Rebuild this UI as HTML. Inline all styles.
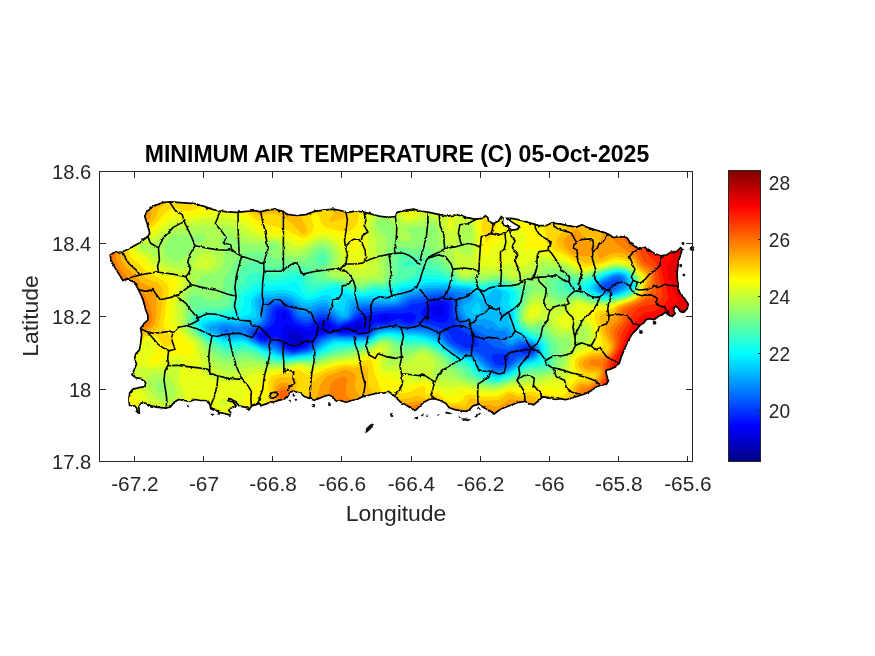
<!DOCTYPE html>
<html>
<head>
<meta charset="utf-8">
<title>Minimum Air Temperature</title>
<style>
html,body{margin:0;padding:0;background:#fff;}
body{width:875px;height:656px;overflow:hidden;position:relative;font-family:"Liberation Sans",sans-serif;}
svg{position:absolute;left:0;top:0;}
text{font-family:"Liberation Sans",sans-serif;fill:#262626;}
.txt{filter:url(#idf);}
.tk{font-size:20.83px;}
.lb{font-size:22.92px;}
.tt{font-size:23.05px;font-weight:bold;fill:#000;}
</style>
</head>
<body>
<svg width="875" height="656" viewBox="0 0 875 656">
<defs>
<linearGradient id="jet" x1="0" y1="1" x2="0" y2="0">
<stop offset="0" stop-color="#000083"/>
<stop offset="0.1216" stop-color="#0000ff"/>
<stop offset="0.3725" stop-color="#00ffff"/>
<stop offset="0.6235" stop-color="#ffff00"/>
<stop offset="0.8745" stop-color="#ff0000"/>
<stop offset="1" stop-color="#800000"/>
</linearGradient>
<filter id="idf" x="-5%" y="-5%" width="110%" height="110%" color-interpolation-filters="sRGB"><feOffset dx="0" dy="0"/></filter>
</defs>
<rect width="875" height="656" fill="#fff"/>
<!-- MAP-START -->
<defs><clipPath id="isl"><path d="M110.1 254.9 113.7 252.7 121.9 252.1 129.3 248.5 139.3 243 147.9 236.6 149.7 232.9 147.2 223.8 144.8 216.5 146.6 211.9 153 206.4 162.2 202.7 169.5 201.8 180.5 202.7 195.1 203.7 204.2 206.4 211.5 209.1 218.9 211 228 211.9 237.1 212.4 246.3 211.3 255.4 210.6 260 211.9 267.3 210.1 274.6 209.1 281.9 211 287.4 214.3 296.6 215.5 305.7 214.6 314.9 211.3 324 210.1 333.1 209.1 340.5 210.6 347.8 212.4 355.1 211 362.4 211.9 369.7 213.7 378.9 216.1 388 217.4 395.3 216.5 397.1 212.4 406.3 210.1 413.6 209.1 420 211 429.1 212.4 438.3 214.3 447.4 216.1 456.6 214.6 465.7 217.4 474.9 219.2 483.1 218.3 484.9 215.5 487.7 217.4 488.6 221 493.1 223.8 498.6 221 501.4 216.5 503.2 218.3 502.3 222.9 505 225.6 509.6 227.4 512.3 230.2 516.9 229.3 519.7 226.5 513.3 222.9 505.9 218.3 511.4 218.3 520.6 220.1 529.7 222.9 538.9 225.6 546.2 225.6 551.7 222.9 559 223.8 560 223.8 567.3 225.6 576.5 227.1 581.9 224.7 587.4 227.4 596.6 230.2 605.7 232.9 609.4 234.7 613 237.5 620.3 236.6 626.7 237.5 630.4 243 635 246.6 639.5 249 645 247.2 649.6 250.3 655.1 253.9 660.6 255.8 667 254.9 671.5 251.2 676.1 252.1 680.7 247.5 682.1 249.4 679.8 256.7 678 264.9 677.1 272.9 677.4 279.7 678 286.6 678.6 291.1 681.4 294.6 684.9 299.1 688.3 304.3 687.1 308.9 683.7 312.3 680.3 311.7 678 307.7 675.1 306 673.4 309.4 675.1 313.4 672.3 316.3 668.9 315.1 665.4 312.3 663.1 314 658.6 316.3 654 319.7 649.4 318.6 646 319.7 643.7 323.1 640.3 325 636.8 329.3 632.2 333.8 629.5 338.4 626.7 343.9 624 350.3 621.3 356.7 619.4 363.1 615.8 366.7 610.3 369.1 605.7 370.4 606.6 375 608.5 380.5 606.6 384.1 601.1 385 595.7 387.4 590.2 391.4 583.8 394.2 578.3 396 572.8 397.8 565.5 399.7 560 398.7 555.3 399.5 548 397.7 542.5 396.8 538.9 400.5 533.4 405 529.7 403.2 525.1 401.4 518.7 402.3 511.4 405 504.1 407.8 498.6 410.5 494.1 414.2 489.5 410.5 484 407.8 478.5 404.1 473 405.9 469.4 409.6 465.7 411.4 460.2 410.5 454.7 409.6 449.3 407.8 445.6 403.2 440.1 400.5 434.6 398.6 429.1 399.5 423.7 402.3 420 405.9 415.4 410.5 411.8 408.7 406.3 405 400.8 402.3 395.3 396.8 389.8 392.2 384.3 392.8 377 393.1 369.7 395 362.4 396.8 356.9 399.5 351.4 400.5 345.9 402.3 340.5 400.5 335.9 401.4 333.1 396.8 328.6 395 323.1 396.8 318.5 398.6 314.9 400.5 310.3 398.6 304.8 396.8 300.2 393.1 293.8 391.2 289.7 392.1 288.3 395.6 284.2 399 278.7 400.4 274.6 401.7 270.5 402.4 265.5 404.1 260 405.9 260 403.2 255.4 405 251.8 405.9 249 409.6 246.3 407.4 239 405.9 235.3 401.4 229.8 398.6 228 400.5 233.5 402.3 236.2 405.9 231.7 407.8 228 409.6 230.7 412.3 229.8 415.1 224.3 413.3 218.9 412.3 215.2 409.6 210.6 407.8 209.7 404.1 206.1 400.5 200.6 400.5 195.1 399.5 189.6 401.4 184.1 400.5 178.6 399.5 174.1 402.3 170.4 406.9 165.8 408.1 158.5 407.4 151.2 405.9 145.7 403.2 141.1 403.2 138.8 406.9 139.3 413.3 137.5 412.3 136.6 407.8 133.8 405.9 129.6 405.6 128.9 400.5 129.6 393.1 132.9 389.1 139.3 387.7 144.8 386.7 145.7 383.1 142.1 378.5 135.7 377.6 132 374.9 134.7 368.5 136.6 363.9 134.4 359.3 135.7 353.8 139.3 350.2 140.6 343.8 141.7 334.6 140.6 328.2 143.9 323.7 147.9 320 147.9 315.2 145.7 309.7 143.9 302.4 141.1 295.1 138.4 289.6 134.7 282.3 127.4 279.5 122.9 280.5 120.1 275.9 115.5 268.6 111 260.3z"/></clipPath><filter id="rgh" x="-2%" y="-2%" width="104%" height="104%"><feTurbulence type="fractalNoise" baseFrequency="0.22" numOctaves="2" seed="7" result="n"/><feDisplacementMap in="SourceGraphic" in2="n" scale="2.6" xChannelSelector="R" yChannelSelector="G"/></filter></defs>
<g clip-path="url(#isl)">
<rect x="100" y="196" width="600" height="248" fill="#0000ca"/>
<path fill="#0000e9" d="M102 196l598 0 0 248 -600 0 0-248zM355.3 326l-1.2 2 2.6 2 3.7 0 2.2-2 0-2 -2.6-1.5zM291.7 332l-3.3 2 -0.7 2 0.3 3 1.3 3 1.7 2 3 1.4 4-0.4 2.6-1 2.2-2 0.9-2 0.1-2 -0.8-2 -5-3.1z"/>
<path fill="#0008ff" d="M102 196l598 0 0 248 -600 0 0-248zM434 306l-2.1 4 0.3 2 1.3 2 2.5 1.6 4 0.9 2-0.3 2-1.4 1.2-4.8 -1.2-2.9 -2-1.3 -4-0.8zM281.8 314l-0.4 2 0.6 2.1 2 1.8 2-1.1 0.5-2.8 -0.5-2.3 -2-0.8zM385.6 316l-1.6 0.3 -2.4 1.7 0.5 2 3.9 1.1 2.5-1.1 0.8-2 -1.3-1.4zM357 322l-5 2.3 -7.7 1.7 -4.8 4 2.5 1.3 8-0.4 8 1.3 4-0.3 3.6-1.9 1.9-4 0.3-2 -0.7-2 -3.1-1.4 -2-0.1zM320 324l-5.2 4 -2.8 3.8 -8-1.4 -16-6.1 -2 0.1 -3.8 5.6 -0.8 4 3.3 8 3.1 4 4.2 2.2 4.6-0.2 5.9-2 3.1-2 2.7-4 3.7-7.8 12-0.8 4-1.4 2.6-2 -0.1-2 -2.5-2.2 -4-0.8zM262.8 334l-2 2 0.9 2 3.2 0 1.8-2 -0.7-2z"/>
<path fill="#0025ff" d="M102 196l598 0 0 248 -600 0 0-248zM432.7 302l-3.6 2 -4.8 4 -2.7 4 -0.2 2 1.4 2 11.2 5.2 8 1.7 4-0.8 2-2.2 1.1-3.9 0.6-8 -0.6-4 -2.3-2 -4.8-1 -6 0.1zM277.3 310l-1.4 2 -1.1 8 -1.3 4 -4.6 4 -9.5 4 -2.3 2 0.1 2 2.8 3.2 4 1.3 8-2.8 4-0.4 4 2.6 4 6.4 2.4 1.7 5.6 2.2 4-0.2 10-3.2 10-10.3 16-5.3 2-0.2 8 2.3 22 0.1 3.1-1.4 4.9-6.9 4-2.5 10 0.7 12-4.6 2 0.1 6 3.4 4 1 2.6-1.2 3.1-4 0-2 -1.4-2 -4.3-1.7 -10 1.8 -16-1.1 -10 2.2 -12 1.6 -10 5.3 -6.8 1.9 -7.2 3.1 -2-0.1 -6-5.1 -6-2 -4 0.6 -10 5.7 -4 0.7 -6-1.4 -6.2-3.5 -2.7-4 -2.3-6 -2.8-2.4 -4-0.7z"/>
<path fill="#0044ff" d="M102 196l598 0 0 248 -600 0 0-248zM436.1 298l-6.1 1.6 -8 3.5 -9.7 0.9 -6.3 3.6 -6 1.9 -36 3.1 -4 1.6 -10 7.1 -10 3.6 -2 0 -2-0.8 -6-4.8 -6-2.4 -6 1.2 -6 3.9 -4 1.7 -6-0.6 -6-3.3 -2-2.5 -3.8-7.3 -2.2-2 -4-1.7 -6.8-0.3 -3.2 1.5 -1.6 2.5 -2 10 -2.4 4 -4 3.2 -9.8 4.8 -0.9 2 0.7 2 1.9 2 4.1 2.9 4 1.2 12-1.4 2.3 1.3 3.7 5.4 2 1.5 6 2.3 4 0.6 14-3.7 10.2-10.1 3.8-1.8 8-2.4 4-0.5 8 1.4 22 0.2 4-1.2 6-6.8 4-1.7 8-0.2 12-2.1 12 2.9 8-2.6 4-0.6 10 2.1 13.7 5.3 4.5 4 1.8 6.2 12 6.9 2.8 0.9 3.2 0 8.2-2 0.5-2 -2.9-6 -2.6-2 -7.2-2.8 -4-2.4 -6.8-6.8 -2.3-8 -0.5-12 -2.2-4 -5.4-2zM525.5 346l-4.8 2 -1.4 2 -0.1 2 2.8 1.3 4 0.5 4-0.6 2.3-1.2 0.7-2 -1.2-2zM493.3 354l-2.1 2 0.3 2 2.5 4.3 2 1.9 2 0.8 6-0.3 2-1.1 2.6-3.6 0.4-2 -0.5-2 -2.5-1.7 -6-1z"/>
<path fill="#0061ff" d="M102 196l598 0 0 248 -600 0 0-248zM614.6 280l-9.9 4 -1.6 2 0.5 2 2.4 1.6 2 0.2 4.9-1.8 6-8 -0.9-0.7zM431.2 296l-9.2 3.4 -10 0.9 -8 4.6 -6 2.3 -28 1.4 -8 1 -4 2.3 -8 7.9 -10 3.3 -2-0.3 -8-6.2 -6-2.7 -6 0.9 -10 6 -6-0.7 -4-2 -1.9-2.1 -3.2-6 -3.9-4 -5-2.2 -8-0.2 -4 1.7 -2.2 2.7 -2.7 12 -2.7 4 -4.4 2.9 -7.8 3.1 -1.8 2 0 2 2.9 4 6.7 4.3 4 1.1 12 0.2 6.5 6.4 5.5 2.1 6 0.8 14-3 2.9-1.9 9.1-8.8 10-3.7 4-0.6 8 1 24 0.2 3.8-2.1 4.2-4.7 4-2.1 18-1.9 14 2.3 12-1.6 8 1.4 10 4 4 3.1 6 8.5 12 7 12 1.3 6 2 4 3 8.7 9.7 3.3 1.8 4 0.1 6-1.6 3.5-2.3 6.5-6.2 4-1.3 10-1.4 2.5-1.1 1.9-2 0.4-2 -0.8-2.2 -2.2-1.8 -5.8-1.9 -6 0.9 -6 4.1 -4 1 -16-2.7 -16.9-13.4 -11.1-6.2 -6.5-5.8 -3.5-6.6 -1.1-5.4 -0.2-8 -0.7-2.3 -2-2.4 -4-1.7 -4-0.6z"/>
<path fill="#0080ff" d="M102 196l598 0 0 248 -600 0 0-248zM612.6 278l-8.6 4 -2.6 2 -1 2 0.3 2 1.7 2 5.6 1.7 6-1.4 3.2-2.3 5.4-6 0.5-2 -0.7-2 -2.4-1.3 -4-0.2zM426.9 294l-6.9 2.5 -10 1.7 -9.8 5.8 -4.2 1.4 -12 0.8 -16-0.3 -8 1 -4 2.6 -6 8.5 -4 2.1 -6 0.9 -2-0.8 -10-7.8 -4-1.8 -6 0.8 -10 5.5 -2 0.4 -4-0.6 -4-2.6 -3.5-6.1 -4.5-4.2 -6-2.4 -8-0.2 -6 2.1 -2.9 2.7 -1.1 3.8 -0.9 8.2 -3.1 5.3 -4 2.3 -8.2 2.4 -3.1 2 -0.3 2 4.5 6 7.1 4.5 6 2.2 10 1.1 9.3 6.2 6.7 1.8 3.4 0.2 12.6-2.2 4-1.4 12-10.3 10-3.5 34 0.6 3.1-1.2 4.9-4.6 4-2.5 14-1.6 6 0 10 1.8 10-0.7 6 0.4 8 2.1 6 2.7 4 3 6.3 7.4 11.7 7.6 4 1.1 8 0.8 6 2.2 4 3.1 9.2 9.2 4.8 2.1 4-0.1 6.9-2 3.5-2 7.6-6.1 14-3.9 2-1.3 1.9-2.7 -0.1-4 -1.8-2.2 -4-2.1 -6-1.5 -4 0.1 -8 4.2 -4-0.1 -4.7-2.4 -1.7-2 -1.6-3.8 -6-0.7 -8-2.3 -10-5.1 -10-6.6 -4-3.7 -3.5-5.8 -1.4-6 0.3-10 -1-2 -2.4-1.7 -6-1.5 -6-0.4zM223.5 330l0.9 2 1.6 0.6 2.5-0.6 0.5-2 -3-1.4z"/>
<path fill="#009dff" d="M102 196l598 0 0 248 -600 0 0-248zM613 276l-9 4.2 -4 2.7 -1.8 3.1 0.1 2 1.3 2 4.4 2.6 4 0.5 4-0.5 6-2.2 6-4.7 1.5-3.7 -0.7-4 -0.8-1.1 -2-1.3 -4-0.7zM439.4 290l-11.4 0.6 -8 2.6 -10 2.2 -4 1.8 -8 5.5 -4 1.1 -12 0.2 -10-0.7 -14 1.1 -4 2.1 -4.5 9.5 -1.5 1.7 -4 1.3 -4.9-1 -13.1-10.9 -2-0.6 -6 1.3 -10 4.1 -4 0.5 -2-0.5 -2-1.6 -5.5-6.3 -4.5-3.1 -6-2 -8 0 -8 1.8 -4 2 -1.1 3.3 -0.3 12 -2 4 -2.6 1.6 -22 3.9 -8-1.8 -4-0.1 -2.1 0.4 -3.2 2 0 2 3.8 4 3.5 1.3 4-0.3 6-1.6 6 0.8 2 0.7 10.4 7.1 5.6 2.7 14 3.7 5.9 3.6 4.1 1.7 8 1.3 18-3.2 3.1-1.8 9.3-8 4-2 7.6-2.4 32 0.7 4-1.6 8-6.2 8-1.3 10-0.4 10 1.8 16 0.2 10 2.7 6 2.9 10 9.3 12 7.9 10 1.4 6 2.2 12 11.1 4 2.5 4 1.2 4-0.2 8-2.5 12-8.2 12-3.5 2-1.1 2.4-2.5 1.2-4 -0.4-2 -1.2-2.1 -4-2.8 -6-2.2 -6-1 -2 0.4 -6 3.5 -2 0.1 -3-1.9 -0.7-2 1.2-6 -0.4-2 -1.1-1.1 -2-0.4 -6 0.6 -2.9-1.1 -3.1-2.8 -4 1.9 -2-0.7 -4-3.2 -4 0.4 -8-3.4 -4-2.6 -3.1-3.6 -2.2-4 -0.8-2 -0.2-4 4.3-9.8 4-0.7 1.2-1.5 -1.1-2 -4.1 1.3 -8-2.2 -10-1.1z"/>
<path fill="#00bcff" d="M102 196l598 0 0 248 -600 0 0-248zM615.3 274l-11.3 4.6 -5.4 3.4 -2.5 4 0 2 1.1 2 2.8 2.4 3.8 1.6 6.2 0.2 8-1.8 8-4.8 1.5-1.6 0.5-2 -1.4-6 -1.3-2 -4.8-2zM427.1 288l-21.1 6 -8 6.1 -4 1.7 -22-1.1 -18 1.5 -3 1.8 -1 1.8 -2 8.2 -1.2 2 -2.8 0.9 -3.1-0.9 -2.9-2 -12-11.2 -4 0 -12 4.2 -4 0.5 -4-1.3 -10-7.3 -6-2.3 -6-0.7 -10 1.5 -8 0 -2.1 0.6 -1.6 2 1.9 16 -0.2 2.2 -2 2.9 -2 0.8 -12 0.8 -8 1.5 -10-1.1 -4 0.2 -11.3 2.7 -2.3 2 1.6 2 4 1.3 10 5.5 4 0.8 10-1 4 0.2 4 1.5 9.8 5.7 8.2 3.4 8 2.4 8.8 4.2 5.2 1.4 6 0.6 18-2.9 5.5-3.1 8.5-6.8 10-4.2 32 0.4 4-1.5 8-5.8 8-1.6 8-0.2 12 1.9 14 0.4 10 2.5 6 2.6 12 9.7 10 6.9 4 1.4 8 1 3.4 1.3 3 2 10.4 10 5.2 2.9 4 1 6-0.8 8-3 11.9-8.1 12.1-3.7 2-1.5 2-2.8 1-4 -0.2-2 -1-2 -3.8-3.3 -8-3.4 -6-1.6 -4 0.3 -4 2.6 -2-0.5 1.2-6.1 -0.3-2 -2.9-4.4 -2-0.9 -6 0.9 -2-0.5 -4-5.1 -10-3.1 -10 0.5 -6-2.6 -2.3-2.8 -2.5-6 0.8-2.9 2-1.6 4-0.9 2.8-4.6 0.6-4 -0.9-2 -2.1-2 -2.4-0.7 -6 0 -18-1.9z"/>
<path fill="#00d9ff" d="M102 196l598 0 0 248 -600 0 0-248zM611.5 274l-9.6 4 -5.6 4 -2.6 4 -0.3 2 1.1 2 3.5 2.9 4 1.9 8 0.5 8-1.5 8.1-3.8 3-2 1.5-2 -0.1-2 -2.4-6 -1.1-2 -2.4-2 -6.6-1.2zM423.8 286l-7.8 2.7 -13.4 3.3 -6.3 6 -2.3 1.2 -20-1.1 -24 1.2 -2.1 0.7 -1.4 2 -1.8 8 -0.7 1.4 -2 0.6 -4.2-2 -5.8-5.1 -4-4.6 -2-1.1 -4 0.1 -12 4 -4 0.1 -4-1.5 -9-5.9 -7-2.4 -6-0.6 -8 1.4 -10-0.3 -4 1.7 -3.1 4.2 -0.1 4 1.8 10 -1.1 4 -11.5 1.6 -8 2 -12-0.8 -12 1.6 -6 2 -1.2 1.6 -0.1 2 1 2 2.3 2 16 6.8 6 1 10-1 4 0.6 10 5.1 24 10 6 1.8 6 0.6 21-2.9 4.1-2 10.9-7.7 8-3.8 18 0.5 14-0.5 4-1.4 8-5.5 8-1.7 8-0.1 12 2.2 12 0.3 8 1.7 8 2.9 4 2.3 18 13.6 4 1.9 8 1.1 4 1.4 14 12.7 6 2.9 4 0.9 6-1 8-3 14-9 8-2 4-1.8 2.6-2.9 1.9-6 -0.9-4 -1.4-2 -4.2-2.8 -17.3-7.2 -2.7-2.8 -5.2-9.2 0.3-8 -5.1-4.3 -2.9-3.7 -0.8-4 1.8-6 0-2 -1-2 -2.3-2 -2.8-0.9 -2 0.3 -2 1.3 -4 5.1 -2 1.4 -4 1.5 -2 0 -4.2-6.7 -2-2 -3.8-2.1 -26-2.9 -10 0.7 -6-0.4zM478 301.5l2.2 4.5 0.4 4 -0.5 2 -2.2 2 -3.9 0.2 -2.5-2.2 -0.2-2 4.7-6.9z"/>
<path fill="#00f7ff" d="M102 196l598 0 0 248 -600 0 0-248zM615.4 272l-7.2 2 -10.2 4.6 -7.6 7.4 -0.8 2 0.6 2 9.8 5.5 8 1 10-1.5 10-4.3 3.9-2.7 0.9-2 -0.2-2 -4.1-8 -1.9-2 -4.6-1.7zM420.8 284l-8.8 3.1 -10 1.2 -3.2 1.7 -4.8 4.7 -4 1.2 -14-0.7 -16 1.5 -8-0.9 -6-2 -4 0.1 -3 2.1 -0.3 6 -0.7 1.1 -2 0 -2-1 -3.2-6.1 -2.8-1.2 -4 0.3 -12 4.4 -4 0.6 -4-1 -10-6.9 -8-2.1 -6-0.6 -8 1 -10 0.2 -4 1.7 -5.9 5.6 -1.3 4 0.6 10 -1.4 2.1 -14 4.5 -12-0.1 -16 2.1 -6 2.3 -0.8 1.1 0.2 2 1.9 4 2.7 2.8 18 8.1 6 1.1 10-1.1 4 0.2 24 11.2 10 3.8 8 1.7 8-0.1 18-2.7 16-9.5 7.4-3.5 16.6 0.4 14-0.8 4-1.4 10-6 8-1.1 6 0.3 12 2.5 10 0.1 8 1.5 8 2.6 6 3.2 18 13.2 4 1.7 10.2 1.8 2.8 2 9.6 10 5.4 3.2 6 2 6-0.3 10-3.7 14-8.9 12-3.2 3.6-3.1 1.9-4 0.7-4 -0.7-4 -1.1-2 -4.4-3.5 -17.2-8.5 -2.2-2 -2.5-4 -1.3-4 0.8-8 -5.2-12 1.9-6 -0.1-2 -2.5-2 -7.7-4 -4-0.9 -4.6 0.9 -5.4 3.5 -4 0.3 -12-5.5 -10-0.6 -16-3.1 -16-0.2z"/>
<path fill="#17ffe8" d="M102 196l598 0 0 248 -600 0 0-248zM610.8 272l-10.8 4 -4 2.2 -10 7.8 -0.9 2 0.5 2 2.4 2.2 9.3 3.8 4.7 1.4 4 0.3 12.5-1.7 10-4 5.2-4 0.6-2 -0.3-2.3 -6-9.9 -3.2-1.8 -4.8-0.9 -4-0.1zM422.7 280l-10.7 4.2 -12.4 1.8 -9.6 6.1 -6 0.6 -8-0.7 -14 2.6 -8-1 -18-6.4 -2 0 -12 4.3 -10 4.5 -4 0.7 -2.3-0.7 -4.2-4 -5.5-10.7 -2 0.2 -6 3 -26 1.8 -6 2.8 -11.9 8.9 -0.1 8 -0.6 2 -3.6 4 -3.2 2 -4.6 1.5 -22 2.2 -10 1.9 -2 1.5 -0.4 2.9 3.5 6 4.9 4.7 18 8.4 6 1.3 14-1.5 12.2 5.1 13.8 7 8 2.7 6 1.1 8 0.1 18-2.1 6-2.1 10-5.8 10-4.8 16-0.2 14-1.1 4-1.4 10-5.8 8-1.1 6 0.6 12 2.9 16 1.2 10 2.9 6 3.2 18 13 4 1.5 8 1.1 2 0.9 7 8.2 4.8 4 6.2 3.2 6 1.7 6-0.4 10-3.8 5.3-2.7 10.7-7 10-1.7 3-1.3 2.2-2 1.9-4 1.1-6 -0.7-4 -1.5-2.9 -4-3.5 -6-2.3 -10-5.8 -4-3.5 -2.2-4 -0.8-4 0.2-8 -1.5-8 1.6-10 -0.6-2 -2.5-2 -14.2-4.5 -6 0.3 -10 2.9 -10-3.3 -12-1 -18-4.9 -14-0.6z"/>
<path fill="#34ffcb" d="M102 196l598 0 0 248 -600 0 0-248zM607.2 272l-11.2 4.5 -13.3 7.5 -2.9 2 -0.9 2 4.7 4 4.4 2.5 11.1 3.5 4.9 0.8 16-2.3 10-3.9 3.4-2.6 1.5-2 0.3-4 -1.2-3.3 -4.4-6.7 -2.4-2 -3.2-1.2 -6-0.8 -4 0.3zM291.6 276l-11.6 3.7 -18 0.9 -6 1.7 -12 8.8 -2.9 2.9 -2 4 -1.8 8 -3.3 4.3 -6 2.5 -10 1.7 -8 0.5 -12 2.3 -2 1.8 -1 2.9 1 4 4.7 6 5.3 4.7 12 5.3 6 3.7 4 1.2 4 0.1 12-2 13.1 5 10.9 6.1 8 2.7 6 1.1 8 0.1 22-2.3 24-10.8 30-2.9 4-1.4 10-5.7 6-1.1 8 1.1 12 3.5 18 1.2 8 2.4 10 5.9 12 9.2 6 2.4 8 1.5 7.5 9 5.4 4 7.1 3.1 6 1.4 6-0.5 12-4.6 16-9.4 8-0.5 5.5-1.5 2.8-2 1-2 1.1-10 -0.6-4 -1.9-4 -3.9-3.6 -8-3 -8.8-5.4 -3.2-2.9 -2.1-3.1 -1.2-4 -0.2-14 1.7-12 -1.8-4 -6.4-3.1 -12-3.2 -6 0.3 -10 2.5 -10-2.6 -10-0.4 -5.3-1.5 -16.7-6.6 -10-1.1 -6 0.8 -14 6.5 -12 2.2 -8 4.7 -4 1.2 -4 0.1 -6-1 -10 3.2 -6 0.5 -8-1.9 -14-5.5 -4-0.6 -24 6.9 -2.8-1.4 -4.7-10 -2.5-2.9 -4-1.6z"/>
<path fill="#53ffac" d="M102 196l598 0 0 248 -600 0 0-248zM403.7 262l-0.8 2 1.1 1.5 10 0.9 2.7-0.4 -0.2-2 -2.5-2.1 -8-0.6zM418.7 268l-3 6 -3.7 2.8 -8 2.8 -8 1.8 -10 5.5 -4 0.5 -6-1.2 -2 0.3 -8 3.3 -4 0.7 -6-0.8 -20-7 -22 2 -2-0.6 -2-1.7 -5.9-8.4 -6.1-2.7 -8 0 -16 3.4 -16-1.9 -6 0.3 -4 2.7 -10 13.6 -2.2 4.6 -2.7 10 -2.7 4 -2.4 1.5 -4 1.1 -16 1.2 -10 1.7 -2 1.3 -2.4 3.2 -0.6 2 0 4 3.5 6 9.5 8.7 10 4.8 8 5.4 4 1 4 0.1 12-2 12 3.6 6 3.8 6 2.8 12 2.9 8 0.2 12-1.6 12-0.6 16-6.6 10-3.3 28-3.9 14-7 6-1.1 6 1 14 5 6 0.7 10-0.5 10 2.7 10 5.7 12 9.4 12 4.2 5.4 6.6 4.9 4 7.7 3.7 8 2.1 6 0.2 4-1.2 12.2-4.8 13.8-7.8 12-0.7 8-2 1.2-3.5 -0.2-12 -1.2-6 -1.8-3.4 -2.2-2.6 -3.8-2.6 -8-2.5 -8-4.7 -2.5-2.2 -2.5-4 -0.9-4 0.5-10 2.5-14 -1.4-4 -2.2-2 -9.5-3.6 -10-2.4 -6 0.3 -10 2.4 -10-2.3 -10-0.1 -5.9-2.3 -18.1-10 -12-2.2zM610.5 270l-12.4 4 -10.1 5 -6 2.1 -14 1.3 -2.8 1.6 -1 2 0.5 2 1.8 2 3.5 1.7 10 1 12 5 12 2.2 16-2.4 10-3.7 4.8-3.8 1.6-4 -0.6-4 -3.3-6 -3.6-4 -2.9-1.6 -6-1.1 -4-0.2z"/>
<path fill="#70ff8f" d="M102 196l598 0 0 248 -600 0 0-248zM319.1 254l-2.7 4 -0.8 4 0.4 3.5 2 0.9 6-2 2.4-2.4 1.1-4 -1.5-3.4 -2-1.5 -2-0.4zM401.2 254l-2 2 -2.2 4 -0.6 4 1.2 8 -0.2 2 -3.5 4 -5.9 4.9 -4 2.1 -4 0.3 -6-0.9 -12 4.2 -4.2-0.6 -19.8-6.7 -10-0.7 -11.1-2.6 -1.7-2 -1.9-6 -3.4-2 -7.9-1.4 -8-0.4 -16 0.1 -6 1.7 -6-3.5 -6-1.6 -6-0.4 -4 0.9 -4 2 -4 3.4 -6 8.7 -4 9.3 -3 15.2 -2.3 4 -4.7 1.2 -20-0.4 -4 0.5 -4 3.5 -2.6 5.2 -0.9 6 0.9 4 2.6 4 12 11.1 18 11.8 6 0.8 12-1.9 4 0.1 8 1.8 13 6.3 11 2.4 8 0.2 12-1.7 12-0.1 4-0.7 14-5.3 12-3.3 26-4.7 14-7.2 6-1 5.5 1.4 10.5 5.3 4 1.2 6 0.6 10-1.5 4 0.5 5.4 1.9 10.5 6 10.1 8.8 10.2 5.2 8.4 8 9.4 4.5 10 2.7 6 0.5 4-0.7 16-6 12-6.1 18-1.3 4-1.4 1.9-2.2 0.6-2 0.2-12 -1.4-8 -2.1-4 -7.2-7.6 -2-1 -8-1.4 -6-2.7 -3.8-3.3 -2.2-3.8 -0.6-4.2 0.6-5.4 4.3-16.6 -0.3-4 -1.5-2 -4.5-2.3 -18-5.3 -8 0.1 -10 2.4 -8-2 -12 0.1 -5.9-3 -16.1-12.6 -18-8.7 -10-2.2 -6-2.2 -2 0.1zM606.8 270l-22.8 8.3 -6 0.5 -12-1.6 -5.3 0.8 -3.4 2 -1.7 2 -1.3 4 0.9 4 2.8 2.8 4 1.5 16 0.3 14 4.9 12 1.5 14-2 10-3.3 4-2 3.9-3.7 1.3-4 -1-6 -2.3-4 -3.9-4.4 -4-2.2 -8-1.2 -6 0.4z"/>
<path fill="#8fff70" d="M102 196l598 0 0 248 -600 0 0-248zM271 246l-1.3 2 0.3 1 2 0.3 2.4-1.3 -0.4-2.4zM421.1 246l-7.1 2.8 -2 0.2 -8-2.4 -4 0.6 -4 2.1 -2.4 2.7 -1.7 4 -0.9 6 0 10 -1.4 4 -2.9 4 -4.7 3.2 -10-0.6 -10 3.8 -3-0.4 -19-6.2 -10-1.2 -3.6-2.6 -1.1-4 5.2-10 0.3-6 -2.8-5 -3.8-3 -2.2-0.8 -4 1.1 -10 10.3 -4 1.7 -6 0.9 -12-0.4 -12-2.7 -3.9-2.1 -2.1-3.1 -2-1.1 -14-0.3 -6 1.2 -4 1.8 -4.3 3.5 -12.9 20 -1.6 4 -1 14 -2.2 3.3 -4 0.9 -7.5-0.2 -6.5-4.1 -4-1 -6 1.1 -2 1.4 -0.9 2.6 0.4 10 -1.6 10 1 6 4.3 6 6.8 5.6 6 6.4 12 11 4 2.3 4 0.9 6-0.1 11.7-2.1 4.3 0.1 6 1.3 14 5.2 12 1.5 8-0.4 12-2 12 0.4 18-5.7 34-7.4 6-2.3 10-5.6 4-1.2 2 0.2 4.8 1.9 7.2 5.5 6 2.6 6 0.5 12-2.8 4 0.5 4 1.4 10 6 8 8.1 8 4.9 7.6 7.3 8 4 16.4 4.7 6 0.6 6-0.7 16-5.6 10-4.5 20-2.1 4-1.3 3.8-3.1 1.4-2 1.4-4 2.8-16 -17.4-19.2 -2-0.6 -8 1.1 -4-1.1 -4-2.8 -3-5.4 0-4 2-8 5-11.4 3.9-6.6 -0.4-2 -3.5-1.2 -16-2.4 -12-4.1 -8 0.3 -8 2.2 -10-1.8 -8 1 -4-0.4 -5.2-3.6 -14.8-15.5 -16-14.4 -2-0.8zM610.1 268l-26.1 8.5 -6-0.2 -14-3.7 -4 0 -6 1.1 -4 1.6 -3 2.7 -1.8 4 0.4 4 3.5 6 3.6 4 3.3 2.5 4 1 18-3 14 4.6 14 1 12-2.3 10-3.1 4-1.9 3.5-2.8 2.3-4 0-6 -1.2-4 -4.7-6 -2.3-2 -3.6-1.6 -8-1.3z"/>
<path fill="#acff53" d="M102 196l598 0 0 248 -600 0 0-248zM379.6 220l-2.1 2 -0.8 2 0.9 4 7.4 8 2 4 -2.2 14 0.8 16 -0.5 4 -2.8 6 -2.3 1.3 -8-1.4 -10 3.4 -22-6 -6-0.3 -2.6-1 -1.1-2 0.1-2 4.2-10 0-6 -1.4-4 -2.8-4 -2.4-2.1 -4-2.1 -4-0.4 -2 0.7 -12 9 -4 2 -6 1.4 -4 0 -6-1.6 -4-2.3 -2.6-6.6 -3.4-3.3 -4-0.5 -12 2.7 -12-0.9 -6-1.4 -4-1.9 -8-6.1 -2-0.6 -4 1.4 -2.1 2.6 -0.7 2 0.4 4 2.9 8 0.4 4 -0.7 6 -1.6 4 -3.2 4 -3.4 2.2 -12 2.7 -4 2 -6.1 9.1 -8.3 10 -1 4 1.2 12 -0.7 10 2 6 3 4 9.6 8 14.3 18 4 3.4 6 2.2 8 0.2 14-2.9 6 0.4 14 3.3 12 1.1 8-0.4 12-2.5 14 1.1 18-5.4 20-3.8 12-3.3 6-2.1 10-5.6 6-2.1 2.3 0.4 2.9 2 1.7 2 3.1 7.5 2 1 10 0.8 4-0.8 10-4.2 6 0.2 3.4 1.5 5.9 4 4.2 4 6.5 8.7 6.8 5.3 6.8 4 8.4 3.8 12 3.4 8 1.4 8 0.4 30-9.2 16-1.9 6-1.3 4-1.6 10-7.9 1.3-3.1 1.5-8 6.1-10 0.6-2 -0.6-2 -2.9-1.6 -8-1.1 -4-1.3 -2.4-2 -6.3-8 -3.3-2.6 -4-0.7 -6 1.8 -4 0.1 -4-1.9 -2-2.1 -1.6-4.6 2.2-8 3.4-7.2 6-7 2-1.3 4-0.2 4 2.4 8 6.9 6 2.4 4-0.4 12-4.6 4-0.6 14 4.3 14 0.6 12-2.6 12-3.8 6-4.2 2.6-4.7 0.3-6 -0.9-4 -6-7.4 -4-2.7 -10-1.8 -8 0.7 -26 8 -8-1.3 -12-5 -16-0.6 -4 1.3 -7.7 6.8 -4.3 2.4 -16 2.4 -4-0.3 -10-4.2 -4-0.4 -8 0.6 -6 1.3 -10-1.2 -10 1.9 -2-0.6 -3.9-3.9 -17.8-26 -1.5-4 -0.9-14 -1.9-4.4 -4-1.6 -12 3.1 -8-0.3 -4 1.1 -1.1 2.1 4.6 6 0.3 2 -1.8 3 -4 1 -6-1.7 -2.8-2.3 -0.8-2 -0.3-8 -4.4-6 -5.7-2.8 -4-0.1zM198 234l-6 1.5 -14-1.2 -6 1.3 -4.2 4.4 -3.6 6 -0.6 4 1.5 4 3.6 4 5.3 2.8 4-0.1 4-1.5 4.1-3.2 7.9-9.6 11.5-6.4 0.8-2 -0.6-2 -1.7-1.7 -2-0.7zM158.8 382l-2.4 2 -0.4 1.6 1.4 4.4 2.6 2.1 2 0.6 3.9-0.7 1.3-2 -1.2-4.5 -4-3.4z"/>
<path fill="#caff35" d="M102 196l598 0 0 248 -600 0 0-248zM379 214l-3 2.1 -2 2.5 -1.5 3.4 -0.5 4 0.7 4 3.8 10 -0.1 10 1.8 16 -0.2 6.1 -2 2.5 -6 0.8 -8 2.6 -14.7-2 -7.7-4 -0.9-2 0.7-12 -1.6-6 -3.9-6 -3.9-3.3 -4-1.9 -4-0.7 -4 0.7 -16 9.1 -6 1.7 -4-0.1 -4-2.3 -6-6.2 -4-2.5 -4-0.6 -12 0.2 -11.9-2.1 -4-2 -12.1-8.7 -6-2.4 -4-0.1 -10 1.4 -12-1.4 -12 2.2 -14 1 -4 1.3 -4 2.4 -12 10 -4 1.3 -6 0 -4 0.9 -1.9 2.1 -0.2 2 2.1 2.4 8 1.9 8.6 7.7 10.4 6 5 1.5 12 1.3 3.9 1.2 0.6 4 -1.6 8 -6.4 12 -1.8 6 0.1 6 1.4 6 -0.4 10 1 4 3.8 6 11.4 9.8 10 17.9 4 5.2 6 4.1 10 2.7 6-0.1 10.1-3.6 7.9-1.3 30 0.7 18-3.6 8 1.9 6-0.1 18-5.4 22-3.9 14-5 10-5.7 6-1.7 2 1.4 1.3 2.7 0.1 10 -1 6 1.6 1.5 22-4 4-2.9 4.1-4.6 3.9-1.3 2 0.1 3.1 1.2 2.5 2 5.4 6 0.6 4 -3.3 8 0.5 2 2.2 2 13 2.7 10 0.9 10 3.1 14 3.3 10 1 6-0.5 12-4.2 16-2.9 14-1.6 10-2.6 4-1.7 4-2.9 6-2.8 2-3.6 2.4-10.2 3.6-5.8 4-3.5 10-4.4 2.8-2.3 0.8-4 -1.3-6 -2.3-3.3 -2-0.8 -4 0.9 -8 5.3 -6 0.9 -4-0.5 -4-1.5 -8-8.9 -4-2.8 -6 0 -8 2.9 -4-0.8 -3-3.4 -0.1-4 3.1-8.1 2-3 4-3.5 4-1.1 2 0.6 10 7.8 6 2.1 4-0.2 4-1.1 10-5.9 4-1.4 12 3.9 16 0.5 24-6.8 6-3.8 2.9-4 1-10 -1.7-4 -8.2-8.5 -2-0.9 -10-1.8 -8 0.8 -8 2.8 -8 1.7 -6 2.4 -4 0.7 -6-1.4 -14-7 -20-3.4 -4 1.7 -12 10.5 -13.6 4.4 -2.4 0 -8-4.4 -4-0.9 -8 0.7 -18-0.2 -10 2.6 -2.1-1.8 -6.6-12 -1.7-6 0.3-6 -0.6-2 -3.3-1.9 -3.4-4.1 -5.7-18 -2.9-4.2 -4-2.1 -4-0.2 -14 4.9 -10 1.1 -4-1.1 -8-6.6 -4-2.2 -6-0.9zM465.7 224l-3 2 -2.6 4 -5.5 18 2.4 2 11 5.7 2-0.3 1.8-1.4 1-2 -0.3-10 0.7-10 -1.2-5.3 -2-2.4 -2-0.6zM152.4 374l-4.1 2 -1.4 2 -0.3 2 1.4 6 3.1 6 4.9 5.5 6 4.3 6 1 4-1.4 2-1.6 2-3 0.7-4.8 -2.1-6 -4.5-8 -2.1-2 -4.7-2 -5.3-0.6zM202 252.9l6-0.8 4 1.6 2.2 2.3 1.1 2 0.4 4 -1.8 4 -2.3 2 -3.6 1.6 -4 0.5 -8-0.9 -3-1.2 0.2-4 1.6-4 3.2-4.3z"/>
<path fill="#e8ff17" d="M102 196l598 0 0 248 -600 0 0-248zM380.3 206l-6.3 3.9 -3.2 4.1 -1.9 4 -1.7 10 1.3 18 -0.6 14 -1.3 4 -1.4 2 -2.5 2 -2.7 1.1 -6 0.1 -4-1.9 -2-2.8 -3.6-10.5 -2.9-6 -5.5-6 -6.8-4 -5.2-1.3 -4 0.1 -4 1.4 -12 6.5 -6 1.2 -4-0.4 -14-7.7 -12-0.4 -12-3.9 -4-2 -10-7.4 -6-3.5 -6-2.5 -4-0.7 -22 1.2 -14 2.7 -12 0.2 -4 0.7 -6 3.2 -12 9.8 -4 1.6 -8 1.8 -4 1.7 -3.3 3.7 -0.8 4 1.8 4 8.7 4 2.2 2 3.4 5.5 2 1.6 12 5.3 12 3.8 3.1 1.8 1.6 2 0.7 2 -0.2 4 -5.7 12 -1.6 8 1 16 1.6 6 3.9 6 11.5 10 2.1 3 3.3 9 2.5 14 3.2 6 3 2.8 4 2.3 6 1.6 6 0.8 12 0 16.5-7.5 5.5-1.8 14-2.5 12-0.7 14-3.9 4 0.4 8 2.8 4-0.4 20-6 20-2.8 16-6.2 8-4.5 2-0.2 2 1.2 0.6 2.6 -1.5 14 0.9 2.4 2 1.9 4 1 8-0.4 6 0.8 4 1.7 6 6.8 4 0.9 8-2.3 2 0.1 10 6.2 8 2.8 16-1.7 22 4.3 12 0.7 4-0.6 12-4.1 28-2 16-4.3 8-0.5 4-1.9 2.8-3.8 0.9-12 1-4 2.3-4 5-3.8 12-5.3 2.7-2.9 0.9-4 -2.2-10 -2.5-4 -2.9-2.4 -4-1.4 -4 0 -2 0.8 -6 6 -4 1.4 -4-1.4 -4-3.8 -1.3-3.2 0.1-2 1.2-1.6 12-5.5 5.8-6.9 2.2-1.1 2 0.1 10 3.3 18-0.5 24-8 5.4-3.8 2.5-4 1.4-10 -0.2-2 -1.2-2 -9.9-9.9 -12-2.7 -8 0.8 -8 2.9 -8 1.5 -6 2.3 -4 0.6 -4.9-1.5 -15.1-8.4 -10-1.9 -8-2.8 -4-0.5 -6 1.5 -10 7.1 -8 2.6 -2 0 -6-3.4 -16 3.3 -14-1.7 -3.6-1.8 -0.6-2 1.4-10 -0.8-18 -1.2-8 -1.4-4 -3.8-4.1 -6-1.7 -4 0.3 -3.3 1.5 -1.5 2 -1.9 8 -1.3 1.8 -2 0.7 -2-1.5 -0.9-3 0.7-6 -0.6-4 -3.2-4 -4-2.7 -8-0.1 -6 1.4 -10.7 7.4 -5.3 2.1 -2-0.2 -3.1-1.9 -6.9-8.5 -4-2.9 -6-1.5zM147 344l0.1 2 0.9 0.8 2-0.9 0.6-1.9 -0.6-1.3 -2 0zM177.7 360l-9.7 5.3 -12 3 -6 0.3 -10-2.6 -3.3 2 -2 4 -0.1 6 1.3 4 9.1 12 7 12.5 6 6.6 6 2.7 6 0.4 6-2.2 4-3.9 2.6-6.1 0.9-12 -0.9-4 -3-6 -0.8-4 2.6-14 -1.4-3zM220.6 400l-0.8 2 0.4 2 1.8 1.7 2 0.4 2.9-2.1 0.4-2 -1.3-2.4 -2-0.8 -2 0.2zM204 261.7l2-0.8 1.7 1.1 -0.2 2 -1.5 0.8 -2-0.6zM532 305.5l2-1.2 4 0.4 2 1.6 1.6 3.7 -0.4 2 -1.7 2 -6.4 4 -3.1 0.5 -1.8-2.5 0.2-2 1.6-5.5z"/>
<path fill="#fff800" d="M102 196l275.2 0 -6.4 6 -4.9 8 -5.5 24 -1.7 14 -0.7 2.1 -2 1.7 -2-0.2 -2-1.6 -4.4-6 -4.8-4 -6.8-3.9 -6-2.3 -6-1.4 -4 0 -4 1.7 -10 6.3 -4 0.9 -4-0.5 -16-6.7 -4-0.6 -8 0.5 -14-7.5 -8-6.5 -10-5.5 -6-2.4 -8-1.5 -10 0.5 -24 5.2 -4 0.2 -10-1.6 -4 0.6 -4 2.7 -10 9.6 -4 2.9 -14 5.1 -4 2.8 -2.5 3.4 -1.3 4 0 4 1.8 4.2 4 2.9 6 2.5 3.6 6.4 4.4 3.7 24 10.3 1.9 2 -0.1 2 -4.3 10 -3.2 12 0.3 16 1.5 4 2.8 4 5.1 5.4 10.2 8.6 1.8 2.4 1.2 3.6 -0.5 4 -2.7 2.8 -4-0.1 -8-2.8 -4 0.1 -10 3.1 -6.1 4.9 -3.8 2 -3.2 0 -2.7-2 -0.2-2 2-3.3 5.3-4.7 0.9-2 0.2-4 -1.1-4 -1.3-2 -2-1.3 -4-0.3 -3.7 1.6 -4.3 4 -11.6 16 -3.3 6 -1.8 6 -0.4 6 2.8 12 2.3 2.8 8.1 5.2 1.3 4 0.1 10 3.1 14 9.4 13.2 2 1.7 2 0.1 4-1.3 4 0.8 2-0.3 16-7.1 6-3.7 16-5.7 2.8 0.3 3.2 4.3 2-1 2-0.1 4 1.1 8-7.3 6-1.1 7.6-5.9 8.4-18 2.5-4 3.5-2.7 4-1.8 6.3-9.5 2.3-2 5.4-3 4-1.2 12-1 12-4.1 4 0.8 6 3.6 4 0.2 14-5 12-3 6-1.1 10-0.3 16-6.1 4-0.2 2 1.4 1.8 13 2.2 3.4 4 3.2 8 2.1 14 7.4 4-0.3 12-3.1 4 0.2 2 1.3 4 4.5 8.8 3.3 9.2 4.7 4-0.3 7.6-4.4 4.4-1.1 4 0.1 12 2.4 12 0.3 4-0.7 12-4.2 10 1.3 8-1.7 10 0.8 16-2.3 6 1.9 2-0.3 6-4.5 5.7-8 0.1-2 -1.9-8 0.3-4 1.8-4.7 4-3.5 16-6.9 2.8-2.9 0.6-2 -0.5-6 -2.1-8 -2.8-5.8 -7.1-10.2 1.1-1.7 12-2.1 12-1.1 6.4-3.1 13.6-4.4 4-2 4.7-3.6 2.4-4 1.7-10 -0.8-3.6 -10-10.7 -4-2.1 -10-2 -4 0.1 -6 1.5 -6 2.6 -8 1.1 -8 2.8 -2-0.1 -3.9-1.6 -16.1-9.8 -10-2.3 -12-6.1 -6-1.2 -10 0.9 -2.1-1.5 -0.1-2 2.6-6 -0.1-4 -2.4-4 -1.9-1.5 -4-1.1 -4.6 0.6 -4.6 2 -6.8 8.5 -10 4.5 -1.3 3 -0.7 5.4 -2 1.5 -2-0.1 -2-1.2 -2-2.4 -1.3-3.2 -0.9-12 -2.3-16 -1.5-5.7 -4-6.4 -4-4.6 -4.3-3.3 -1.8-2 -0.5-2 238.6 0 0 248 -600 0 0-248zM402 196l2 0 16.6 0 -4.6 4.9 -4 2 -2-0.1 -4-1.9 -3.2-2.9z"/>
<path fill="#ffd900" d="M102 196l2 0 256.3 0 -1.7 8 -0.3 14 -0.7 4 -3.6 6.4 -2 1.7 -4 1.5 -4 0 -12-2.4 -8.6-3.2 -2.1-2 -2.1-8 -2-2 -3.2-0.4 -2 1.5 -1 2.9 2.8 8 -0.9 4 -4.9 6 -2 1.1 -4 0.6 -18-9 -12-2.9 -14-4.9 -18-12.8 -6-3.2 -6-1.6 -10-0.5 -8 1.5 -22 7 -12-3 -6 0.9 -6 4.4 -6.1 8.4 -3.9 3.8 -4 2.2 -11.6 4 -4.4 2.8 -2.8 3.2 -2.6 6 -0.5 6 1.9 6.1 2 2.6 8 6.3 6.8 7 15.5 8 3.7 2.9 2.2 3.1 0.5 6 -3 14 -0.8 10 -1.6 8 1 4 8.4 10 1.7 4 -0.7 2 -1.7 1.1 -2 0.9 -4 0.4 -4-2.1 -3.8-6.3 -2.2-1.9 -4-0.9 -6 0.8 -8.5 4 -8 6 -8.2 8 -6.4 8 -5.6 10 -3.6 14 -1 10 -0.1 30 -2.4 10 -1 8 -1.2 0 0-248zM522 196l178 0 0 248 -468.3 0 4.3-3.7 4-7.4 6-6.2 2.6-4.7 7.4-9.6 8-6.6 3.1-3.8 2.4-8 -1.6-10 0.8-4 1.1-2 4.2-3.2 14-1.6 10-3.7 2.2 0.5 5.8 4.8 4 0.8 4-1 12-5.6 12-3.4 6-1.2 10 0.3 12-4.6 4-0.4 2.2 2.3 1.5 10 4.5 10 1.8 6 2 3.3 2 1.7 6 1.1 16-1.3 4-1.1 8-4.3 4-1.3 2 0.2 1.2 1.7 -0.4 4 0.3 2 0.9 0.7 8-1.1 4 0.8 2.8 1.6 5.2 5 6 2.2 8.3-1.2 1.7-1.2 2.9-4.8 3.1-1.8 4 0.2 10 2.5 14-0.4 4-1.2 6.4-3.3 3.6-0.8 4 0.8 4 2.2 12-2.6 26 4.7 4 0.1 4-1.8 2-1.7 10-12.6 4-1.8 6 0.1 1.3-0.6 -2.4-2 -4.9-2.1 -2-1.9 -2.6-4 -0.8-4 1-4 2.4-3 8-3.5 15.4-5.5 1.7-2 -5.6-20 -3.1-8 0.4-4 2-2 3.2-1.3 10-1.5 8-4.6 12-4 8-4.5 2.2-2.1 2-4 2.2-10 -0.5-4 -11.9-12.3 -4-2.1 -10-2.2 -4 0.1 -4 0.9 -8 3.7 -8 0.8 -8 2.3 -2-0.3 -20-12.3 -8-2.7 -6.2-5.9 -3.3-6 -2.9-16 0-8 -5.6-11.7 -2-2.4 -6 4.2 -2 0.2 -5.5-2.3 -1.6-2 -0.2-2 0.2-4zM486 203l2 1.7 2 4.7 2 1.2 4 0.7 1.5 4.7 -1.1 8 -2.4 9.3 -2 3.6 -5.6 5.1 -0.4 2.6 -0.4-6.6 -3.6-7.3 -0.8-4.7 0.8-3.7 3.5-8.3z"/>
<path fill="#ffbc00" d="M102 196l95.9 0 -9.9 3.6 -14 0.3 -8 2.6 -6.5 5.5 -2.2 4 -1.8 6 -2.9 4 -4.6 2.6 -10 2.5 -4 1.8 -4 3.3 -2.8 3.8 -2.3 6 -0.8 8 0.9 6 3 5.7 16 15.2 4 2.3 8 2.8 3 2 2.9 4 1.3 6 -3 24 -1.9 8 -2.3 3.8 -4 1.9 -18 5.2 -14 7.8 -9.6 9.3 -10.4 15.1 0-173.1zM238 196l73.8 0 -7.5 8 -3.1 8 0.4 6 5.2 10 -0.1 4 -2.2 2 -2.5 0 -10-10.4 -8-5.5 -8-3.8 -4-1 -12 1.9 -4-0.6 -3.4-2.6 -6.5-8zM316 196l25.9 0 0.3 10 0.5 2 3.3 6 0.5 2 -0.5 1.3 -0.7 0.7 -7.3 1.4 -5.8 2.6 -2.2-0.7 -0.6-1.3 0.6-2.1 4.2-3.9 0.4-2 -1.2-4 -3.1-4 -2.3-1.8 -13.5-6.2zM558 196l142 0 0 248 -451.4 0 1.4-3.4 6-8.6 4-10.6 6-8 3.1-5.4 3.2-12 0.7-12 1.8-4 3.2-2 12-0.8 5.4 0.8 1.6 2 0.3 2 -1.4 6 0.4 4 3.7 3.5 4 1.3 2-0.3 2.7-2.5 1.8-8 2.5-4 11-8.8 20-6.5 10 1.2 10-2.5 2 0.3 1.7 2.3 0.4 2 -0.1 14 1.3 4 4.6 6 8.1 5.5 4 1.2 4 0.1 20-2.8 6-1.7 2-0.2 8 2.6 8-2.2 2 0.1 2.8 1.4 3.9 4 3.3 2.1 4 1.1 8 0.4 6 1.2 2-1.2 2-5.2 2-1.8 2-0.1 10 2.4 16-0.8 4-1.6 6-4.2 2-0.5 2 0.3 6 3 12-1.9 22 6.8 8-0.3 4-1.4 4-2.6 3-3.7 3.7-8 3.3-3.4 4-0.8 6 0.7 7.1-4.5 1.5-2 -0.6-2.5 -2-0.8 -6 0 -4-1.3 -4.6-3.4 -1.6-4 1.5-4 6.7-3.9 8-2.4 12-1.8 2.4-1.9 0.6-2 -0.8-4 -4.2-7 -2-5 -2.4-14 0.3-2 2.1-2 8-1.6 7.8-6.4 14.2-5.2 7.9-4.8 1.8-2 1.9-4 2.6-10 -0.2-4 -1.2-2 -5.2-4 -7.6-8.8 -6-2.8 -6-1.7 -6 0 -4 1 -8 4.3 -16 1.1 -4-1.2 -10-5.2 -12.4-8.7 -3-4 -0.3-4 2.3-4 8.2-8 1.8-4 0.6-4 -0.9-6 -2.7-8 -1.6-2.3 -4-0.9 -2-2.1 -1-4.7z"/>
<path fill="#ff9d00" d="M102 196l55.9 0 -6.2 10 -0.8 4 0.2 6 -1.1 2.8 -2 1.3 -10 0.9 -4 1.2 -5.9 3.8 -3.4 4 -3.5 8 -1.1 12 0.5 8 1.7 4 3.7 5.2 14.8 14.8 5.2 3.1 7.8 2.9 1.4 2 1.2 4 0.3 20 -1.9 10 -3.2 4 -5.6 2.4 -14 2.3 -9.2 3.3 -12.5 6 -10.3 7 0-153zM258 196l2 0 19.2 0 -11.2 2.1zM582 196l118 0 0 248 -437.4 0 1.4-8.5 7-13.5 2.1-6 1.2-8 0.8-16 0.9-4.3 2-3.3 4-2 6 0.5 3.1 3.1 2.9 8.7 4 6 4 2.8 6 1 4-1.8 4-4.5 4.9-14.2 4-6 3.1-2.3 16-5.8 2.8 0.1 4.8 2 3.2 2 1.2 1.7 0.4 2.3 -1.6 6 -0.1 4 2 4 5.3 5.9 10 6.4 10 3.3 8-0.6 26-5.7 12 0.2 6-2 2.5 0.5 4.2 4 3.4 2 3.9 1 8 0.4 8 2.9 4-0.8 4-3.3 2-0.8 8 0.4 8-1 6 1.9 2-0.2 4-1.7 8-6 8 1.7 12 0.5 22 7.8 10-1.8 6.4-3 3.6-3.5 3.1-4.5 1.7-8 1.2-2.1 2-1.5 2-0.3 6 0.6 8-4.2 2.6-2.5 1.4-4 -0.6-2 -1.4-1.5 -2-0.8 -8-0.1 -2-0.8 -3.2-2.8 -0.7-2 0.6-2 1.9-2 5.4-2.9 4-1 10-0.9 4-1.5 1.9-1.7 1.6-4 -0.2-4 -5.4-10 -1.1-4 0.5-4 1.5-4 1.9-2 3.6-2 1.5-2 2.4-6 1.8-2.2 2.8-1.8 13.2-4.9 7.8-5.1 3.6-6 2.8-12 -0.7-4 -7.5-5.8 -6-8.2 -4-3.2 -6-3 -4-1.1 -6 0.2 -6 1.5 -6 4.1 -2 0 -1.1-0.5 -0.9-4.3 -2-2.5 -2 0.5 -5 4.3 -5 0.6 -12-3.2 -2.1-1.4 -5-6 -2-4 0.8-2 8.3-8.5 4-2 2 0.5 2 2 2.4 4 3.6 3.9 8 5.4 2 0 2-1.2 3.2-4.1 0.8-4 -0.8-4 -3.2-5.4 -10.2-12.6 -7.3-18z"/>
<path fill="#ff8000" d="M102 196l41.8 0 -7 12 -12.1 10 -5.6 8 -2.9 10 -0.3 22 1.8 6 3.8 6 12.5 15.2 9.6 8.8 2.4 3.1 5.3 12.9 1 6 -0.2 4 -1.4 4 -1.8 2 -2.9 1.5 -24 0.7 -10 2.9 -12 4.9 0-140zM594 196l106 0 0 248 -406.4 0 0.8-12 1.6-6.2 2-3 8-2.8 8 1 4-0.7 8.4-6.3 1.6-2.5 1.9-7.5 -0.6-14 1.6-6 3.7-4 7.4-3.2 2-0.2 2.6 1.4 0.6 4 -1.6 10 0.7 2 9.2 14 4.5 4.4 12 6.1 4-0.4 6-3.2 6-0.7 8-2 16-6.7 4-1.1 10 0.7 8-0.4 10 4.3 10-0.1 3.3 1.1 4.7 2.9 6 1.2 14-1.3 14 2 6-1.7 8-3.9 14-1.4 20 5.6 8 3.1 14-3.6 4.6-2.9 3.4-3.5 4.1-6.5 1.4-4 0.5-6 1-2 7-1.1 8-4 2-1.2 2.9-3.7 1.3-6 -1.8-4 -2.4-1.5 -8-1.1 -1.6-1.4 0.3-2 3.3-2.6 8-0.1 4-1.4 4-2 3.7-3.9 1.6-4 0.3-4 -3.7-10 -0.6-4 2.1-4 6.8-6 0.4-2 -0.7-6 0.9-2 3.2-2.7 16-6.8 6.1-4.5 2.7-4 3-10 0.5-6 -1.1-4 -8.8-6 -4.9-8 -3.5-3.8 -14-9.1 -3.2-3.1 -2.1-4 -2.3-8 -3.5-8 -12.9-21.9 -1.3-4.1zM280 387.7l2-1.1 4 0.2 3.3 3.2 1.6 4 1.6 8 -0.1 6 -1.4 4 -3 1.8 -4-0.7 -2-2.1 -4-8.3 -1-4.7 0-4 1-3.6z"/>
<path fill="#ff6100" d="M102 196l19.5 0 -8.6 20 -2.9 12 0.1 10 3 14 -0.8 8 0.4 6 2.2 6 6.6 10 4.9 12 3.6 4.7 12 11.8 4 5.3 1.2 4.2 -0.2 2 -1 1.4 -1.5 0.6 -2.5-0.4 -6-3.1 -6-1.9 -10-0.9 -10 0.9 -10 2.3 0-124.9zM610 196l90 0 0 248 -378.5 0 3.3-8 5.2-7.6 4-3.3 2-0.4 4 0.8 4 2.8 2-0.3 2-9.2 2-0.1 4 2.9 6 2 2 1.8 4 5.8 2-0.1 6-2.9 6-0.3 4-2.8 12-4.5 8-5.1 8-6.6 4-1.5 26 5 12-1.1 8 5.8 4 1.7 16 2.7 10 0.7 12 0 10-2.6 10 1 4-0.8 6 1.5 10 1.3 4 2.3 2 0.3 12-2.1 8-3.3 2-1.6 4.4-4.2 4.9-8 4-14 5-4 7.7-3.8 2.4-2.2 2.4-4 1.5-6 -1.3-8 0.6-2 1.8-2 6.6-5.9 3.1-6.1 0.3-6 -1.8-10 1.9-4 4.5-4.4 2.5-3.6 0.2-2 -1.7-6 1-2 3-2 15-6.8 7.7-5.2 2.6-4 1.8-6 0.6-12 -0.7-3.1 -2-2.1 -6-2.6 -2.4-2.2 -5.6-10.8 -11.7-13.2 -4.3-7.2 -6.3-22.8 -4.6-12 -0.4-2zM284 389.8l2 0.8 1.2 1.4 1.1 4 -1 4 -1.3 1.5 -2 0.4 -2.9-1.9 -1.8-4 0.7-4 2-1.8z"/>
<path fill="#ff4400" d="M622 196l78 0 0 248 -314.2 0 0.8-4 1.4-2.5 2-1.8 8-4.2 6-4.5 10-12.3 2-1.4 12 3.2 8 1.3 16-0.6 12 8 4 1.5 8 1.3 10 4.2 10-0.3 8 3.3 4 0.3 2-0.6 5.1-4.9 2.9-0.9 4 2.1 5.5 6.8 2.5 1.1 2-1.2 2-4.2 2-0.8 6 0.9 6 3.6 6-0.3 6-2.3 6-0.8 2-0.9 6.7-5.1 5.3-4.9 4-5.7 3.3-7.4 1.7-14 1.4-4 9.6-6.5 4.8-7.5 1.7-6 -0.2-8 0.8-2 6.7-8 3.1-6 0.8-6 -0.6-8 1.7-4 5.2-6 2.4-4 -0.2-8 1.6-2 3.3-2 12.9-6.5 8-2.8 2.7-2.7 1.6-4 0.2-4 -1.4-10 0-6 -1.1-3.8 -2-2.3 -7.4-3.9 -1.6-2 -7-16.5 -10.4-17.5 -3-20 -2.3-10zM100 236l9.3 18 -3.4 10 -1.6 8 -2.1 4 0.4 8 -0.6 4 -2 2.2zM362 441.8l2.9 0.2 2.7 2 -10.5 0 0.9-1.1z"/>
<path fill="#ff2600" d="M634 196l66 0 0 248 -124.2 0 2.2-3.2 6 1 2-0.7 2-1.8 1.7-3.3 2.3-9.1 2.6-2.9 0.9-2 -0.7-18 0.9-8 7.4-10 4-8 1.8-6 0.4-8 9.7-16 2.3-14 8-12 4.2-10 4.5-3.7 4-1.9 4-1.1 6-0.4 4-1.5 4.5-3.4 1.6-2 0.5-2 -0.7-8 -3.2-10 -1.8-12 -2.2-4 -5.7-6 -2.3-4 -3.4-8 -2.4-10 -4.2-8 -4-12 -0.1-12 0.7-6zM422 429.8l12 0.4 12-0.9 6 0.7 16 8 8 0.2 8 1.3 6 2.5 1.7 2 -81.6 0 0.7-2 5.2-7.1z"/>
<path fill="#ff0700" d="M646 196.5l0-0.5 54 0 0 248 -96.3 0 0.4-2 1.9-2.2 0.5-3.8 -2.9-18 -1.2-12 0.2-6 1.4-6 7.1-18 1.2-10 1.3-4 8-14 4.5-14 7.9-11.7 10-9.2 12-2.7 4-2.4 6.4-6 1.9-4 -2.3-12 -3.9-12 -1.8-16 -9.4-22 -0.3-8 1.4-7 -2-4 -2-9 -2.2-4z"/>
<path fill="#e90000" d="M670 196.9l0.4-0.9 29.6 0 0 248 -77.5 0 -7.3-24 -3.7-18 0.7-14 3.3-12 1.2-10 1.3-5.1 7.6-12.9 6.4-14.2 5.6-7.8 6.4-3.9 16-6 10-9.1 8.2-5 0.1-2 -4.3-8.5 -5.5-13.5 -1.6-8 0.5-4 4.5-6 0.4-2 -2.4-12 -3.4-8 -1.4-14 3.8-24z"/>
<path fill="#ca0000" d="M694 197.8l1-1.8 5 0 0 38.6 -4 0.5 -2-1 -0.1-4.1 -2.1-4 2.3-12 -0.1-4.1 -2-0.1 -4 1.3 -1.2-1.1 3-6zM700 248.1l0 195.9 -63.3 0 -10.7-27.2 -5-18.8 -0.4-10 2-20 1.3-6 2.1-4.4 9.6-13.6 3.5-8 2.9-3.4 4-2.3 11.1-2.3 6.9-3 10-9.8 14-0.9 3.1-2.3 4.2-6 1.7-4 0.2-2 -1.9-6 -3.5-4 -1.8-4 -7.9-8 -2.4-4 0.4-2 9-10z"/>
<path fill="#ad0000" d="M664 337.7l8 0.9 4 2.1 10 2.7 8-1.9 6 0.9 0 101.6 -40.1 0 -10.3-18 -13.1-26 -1.8-10 0.2-6 -2-6 -0.6-8 0.6-4 1.1-2.2 6.6-3.8 3.4-8.8 5.4-5.2 1.2-2 9.4-5.1z"/>
<path fill="#8e0000" d="M678 369.3l2-0.4 8 1.1 4-0.8 8 2.9 0 54.7 -8-6.5 -12-12.2 -2-1.1 -4-0.8 -4.2-2.2 -3.8-4.5 -9.8-17.5 -0.8-4 0.6-3.5 2-0.7 8 4.9 4-0.2 2-4.6 4-0.1 0.9-1.8 0-2z"/>
</g>
<g filter="url(#rgh)">
<path d="M110.1 254.9 113.7 252.7 121.9 252.1 129.3 248.5 139.3 243 147.9 236.6 149.7 232.9 147.2 223.8 144.8 216.5 146.6 211.9 153 206.4 162.2 202.7 169.5 201.8 180.5 202.7 195.1 203.7 204.2 206.4 211.5 209.1 218.9 211 228 211.9 237.1 212.4 246.3 211.3 255.4 210.6 260 211.9 267.3 210.1 274.6 209.1 281.9 211 287.4 214.3 296.6 215.5 305.7 214.6 314.9 211.3 324 210.1 333.1 209.1 340.5 210.6 347.8 212.4 355.1 211 362.4 211.9 369.7 213.7 378.9 216.1 388 217.4 395.3 216.5 397.1 212.4 406.3 210.1 413.6 209.1 420 211 429.1 212.4 438.3 214.3 447.4 216.1 456.6 214.6 465.7 217.4 474.9 219.2 483.1 218.3 484.9 215.5 487.7 217.4 488.6 221 493.1 223.8 498.6 221 501.4 216.5 503.2 218.3 502.3 222.9 505 225.6 509.6 227.4 512.3 230.2 516.9 229.3 519.7 226.5 513.3 222.9 505.9 218.3 511.4 218.3 520.6 220.1 529.7 222.9 538.9 225.6 546.2 225.6 551.7 222.9 559 223.8 560 223.8 567.3 225.6 576.5 227.1 581.9 224.7 587.4 227.4 596.6 230.2 605.7 232.9 609.4 234.7 613 237.5 620.3 236.6 626.7 237.5 630.4 243 635 246.6 639.5 249 645 247.2 649.6 250.3 655.1 253.9 660.6 255.8 667 254.9 671.5 251.2 676.1 252.1 680.7 247.5 682.1 249.4 679.8 256.7 678 264.9 677.1 272.9 677.4 279.7 678 286.6 678.6 291.1 681.4 294.6 684.9 299.1 688.3 304.3 687.1 308.9 683.7 312.3 680.3 311.7 678 307.7 675.1 306 673.4 309.4 675.1 313.4 672.3 316.3 668.9 315.1 665.4 312.3 663.1 314 658.6 316.3 654 319.7 649.4 318.6 646 319.7 643.7 323.1 640.3 325 636.8 329.3 632.2 333.8 629.5 338.4 626.7 343.9 624 350.3 621.3 356.7 619.4 363.1 615.8 366.7 610.3 369.1 605.7 370.4 606.6 375 608.5 380.5 606.6 384.1 601.1 385 595.7 387.4 590.2 391.4 583.8 394.2 578.3 396 572.8 397.8 565.5 399.7 560 398.7 555.3 399.5 548 397.7 542.5 396.8 538.9 400.5 533.4 405 529.7 403.2 525.1 401.4 518.7 402.3 511.4 405 504.1 407.8 498.6 410.5 494.1 414.2 489.5 410.5 484 407.8 478.5 404.1 473 405.9 469.4 409.6 465.7 411.4 460.2 410.5 454.7 409.6 449.3 407.8 445.6 403.2 440.1 400.5 434.6 398.6 429.1 399.5 423.7 402.3 420 405.9 415.4 410.5 411.8 408.7 406.3 405 400.8 402.3 395.3 396.8 389.8 392.2 384.3 392.8 377 393.1 369.7 395 362.4 396.8 356.9 399.5 351.4 400.5 345.9 402.3 340.5 400.5 335.9 401.4 333.1 396.8 328.6 395 323.1 396.8 318.5 398.6 314.9 400.5 310.3 398.6 304.8 396.8 300.2 393.1 293.8 391.2 289.7 392.1 288.3 395.6 284.2 399 278.7 400.4 274.6 401.7 270.5 402.4 265.5 404.1 260 405.9 260 403.2 255.4 405 251.8 405.9 249 409.6 246.3 407.4 239 405.9 235.3 401.4 229.8 398.6 228 400.5 233.5 402.3 236.2 405.9 231.7 407.8 228 409.6 230.7 412.3 229.8 415.1 224.3 413.3 218.9 412.3 215.2 409.6 210.6 407.8 209.7 404.1 206.1 400.5 200.6 400.5 195.1 399.5 189.6 401.4 184.1 400.5 178.6 399.5 174.1 402.3 170.4 406.9 165.8 408.1 158.5 407.4 151.2 405.9 145.7 403.2 141.1 403.2 138.8 406.9 139.3 413.3 137.5 412.3 136.6 407.8 133.8 405.9 129.6 405.6 128.9 400.5 129.6 393.1 132.9 389.1 139.3 387.7 144.8 386.7 145.7 383.1 142.1 378.5 135.7 377.6 132 374.9 134.7 368.5 136.6 363.9 134.4 359.3 135.7 353.8 139.3 350.2 140.6 343.8 141.7 334.6 140.6 328.2 143.9 323.7 147.9 320 147.9 315.2 145.7 309.7 143.9 302.4 141.1 295.1 138.4 289.6 134.7 282.3 127.4 279.5 122.9 280.5 120.1 275.9 115.5 268.6 111 260.3z" fill="none" stroke="#000" stroke-width="1.7" stroke-linejoin="round"/>
<path d="M365.1 431.2 367 427.9 369.7 425.1 373 423.9 373.7 425.7 370.6 428.8 367.9 431.5 365.7 432.5zM390.6 413.6 392.4 413.6 392.8 416.2 390.9 416.5zM415.1 416.9 417.6 416.9 417.6 418.7 415.1 418.7zM682.1 242.6 684 242.6 684 244.4 682.1 244.4zM679.8 264.4 681.6 264.4 681.6 266.7 679.8 266.7zM683.1 274.1 684.7 274.1 684.7 275.9 683.1 275.9zM639.7 330.7 642.3 330.7 642.3 333.3 639.7 333.3zM653.3 321.6 655.8 321.6 655.8 324.1 653.3 324.1zM312.3 404.5 314.5 404.5 314.5 406.7 312.3 406.7zM328.6 403.7 330.4 403.7 330.4 405.6 328.6 405.6zM417.4 417.4 417.1 418 416.2 418.4 415.1 418.5 414.6 418.2 414.9 417.6 415.8 417.1 416.9 417zM423.4 414.8 423.2 415.2 422.5 415.7 421.7 415.8 421.2 415.5 421.4 415 422.1 414.6 422.9 414.5zM428.4 415.1 428.3 415.7 427.7 416.2 426.9 416.5 426.4 416.3 426.5 415.8 427.1 415.2 427.9 415zM439.3 414.8 439.2 415.3 438.6 416 437.8 416.3 437.3 416.2 437.3 415.7 438 415 438.8 414.6zM450.8 413.5 449.9 413.7 447.9 413.5 445.9 413 445.2 412.5 446.1 412.2 448.1 412.4 450.1 412.9zM471.1 420.4 469.6 420.8 466.2 420.5 462.8 419.8 461.5 419 463 418.7 466.4 418.9 469.8 419.6zM460.5 417 460 417.3 459.2 417.2 458.5 416.7 458.4 416.2 458.8 416 459.6 416.1 460.3 416.5zM480.5 413.2 479.9 414.1 478 415.6 476 416.9 474.9 417.1 475.5 416.2 477.4 414.7 479.5 413.4zM480.5 409.4 479.9 409.6 478.7 409.3 477.6 408.7 477.2 408.3 477.8 408.1 479 408.4 480.1 409zM693.9 248.9 693.3 250.1 691.9 250.5 690.6 250.1 690 248.9 690.6 247.8 691.9 247.3 693.3 247.8zM189.1 405.9 188.9 406.5 188.2 406.7 187.6 406.5 187.3 405.9 187.6 405.2 188.2 405 188.9 405.2zM213.8 414.8 213.5 415.4 212.9 415.7 212.3 415.4 212 414.8 212.3 414.1 212.9 413.9 213.5 414.1zM219.9 413.8 219.7 414.3 219.1 414.5 218.5 414.3 218.3 413.8 218.5 413.3 219.1 413.1 219.7 413.3zM290.7 401.1 290.4 401.6 289.7 401.9 289 401.6 288.8 401.1 289 400.5 289.7 400.2 290.4 400.5zM296.8 399.7 296.5 400.3 295.9 400.5 295.3 400.3 295 399.7 295.3 399.1 295.9 398.9 296.5 399.1zM294.7 395.6 294.4 396.2 293.8 396.4 293.2 396.2 293 395.6 293.2 395 293.8 394.7 294.4 395zM249.8 409.3 249.4 410.2 248.3 410.5 247.2 410.2 246.8 409.3 247.2 408.4 248.3 408.1 249.4 408.4z" fill="#111" stroke="#000" stroke-width="0.8"/>
<path d="M169.5 201.8 175 210.1 182.3 214.6 184.1 221.6 191.4 236.6 195.1 245.7M184.1 221.6 173.1 227.4 163.1 238.4 158.5 247.9M147.9 236.6 150.3 243 158.5 247.9 159.4 260.3 157.6 265.8 158.5 272.2M195.1 245.7 206.1 247.9 217 249.7 226.2 250.3 231.7 249.4 237.1 253.9 241.7 256.3 251.8 259.4 260 262.2M195.1 245.7 189.6 254.9 187.8 262.2 190.5 268.6 188.7 273.1 185.9 276.8 187.8 280.5 191.4 284.5M219.8 211.3 217.9 217.4 215.2 223.8 221.6 231.1 226.2 237.5 223.4 243 230.7 244.8 231.7 249.4M238.1 212.4 238.1 227.4 238.6 242.1 239.3 254.9 241.7 256.3 239 265.8 236.2 276.8 234.9 287.8 236.2 296.9 234.4 306.1 237.1 315.2 239 320M121.9 252.5 125.6 258.5 129.3 264 136.6 270.4 139.9 275M123.8 280.1 127.4 278.6 139.9 275 154.9 272.2 158.5 272.2 173.1 274.1 185.9 276.8M191.4 284.5 202.4 287.4 217 290.5 228 294.2 234.9 296M138.4 289.6 145.7 291.4 153 289.6 156.7 295.1 160.3 299.7 173.1 296.9 178.6 294.2 191.4 285M176.4 295.5 178.6 297.8 185.9 303.3 190.5 309.7 196.9 317 198.7 320M260.9 212.4 262.2 220.1 265.1 231.1 266.9 242.1 267.7 250.3 265.5 256.7 263.7 263.1 264 271.3 262.7 282.3 262.2 295.1 263.3 302.4 261.8 309.7 260.9 317M260 263.1 263.7 263.1M264 271.3 282.9 271.3 283.4 270.4 283.4 211.3M283.4 270.4 287.4 266.7 294.7 262.7 298.4 264 300.6 271.3 303 274.1 313 271.7 322.2 270.4 333.1 269.1 338.6 268.6 340.5 270.4 345.9 271.3 351.4 276.8 353.6 281.4 355.5 287.8 355.1 295.1 356.9 302.4 358.7 309.7 364.2 315.2 366.1 320M345.9 212.4 347.4 220.1 346.3 229.3 344.5 240.2 345.6 247.5 347.4 254.9 345.9 263.1 340.5 268.6M345.9 264 355.1 264 362.4 263.1 369.7 259.4 378.9 256.3 388 254.5 395.3 253.4 402.6 253 408.1 254.9 413.6 258.5 417.3 263.1 420 264M395.3 216.5 396.8 227.4 396.2 240.2 394.4 249.4 395.3 253.4M345.6 246.6 349.6 242.1 353.3 239.3 358.7 239.3 362.4 243.9 365.1 250.3 365.7 256.7 364.6 261.3M364.2 212.8 366.1 220.1 364.2 225.6 367.9 232 362.4 235.7 361.5 239.3M388.9 254.5 390.2 262.2 391.3 273.1 389.5 282.3 390.7 291.4 392 295.5 402.6 293.3 411.8 290.5 417.3 285.9 420 280.5M392 295.5 388 297.8 378.9 296.9 373.4 299.7 370.6 306.1 371.5 313.4 369.7 320M351.4 280.5 347.8 285 342.3 285.9 341.9 293.3 338.6 298.7 333.1 299.7 331.3 307.9 328.6 315.2 327.7 320M260.9 317 262.7 305.1 269.1 304.2 274.6 299.7 280.1 299.7 285.6 305.1 294.7 307.9 305.7 309.7 312.1 314.3 313.9 320M428.2 212.4 427.7 223.8 426.4 236.6 423.7 247.5 420.9 256.7 420 260.3M439.2 214.6 440.1 225.6 443.8 234.7 444.1 242.1 444.7 248.5M420 280.5 420.9 276.8 423.7 267.7 426.4 260.3 431 255.8 439.2 252.1 444.7 248.5 456.6 246.6 467.5 243.5 474.9 244.8 480 247.2M476.7 219.2 473 221 467.5 223.8 459.9 224.7 458.4 232.9 460.6 242.1 461.7 244.8M493.1 223.8 492.2 230.2 490.4 233.8 485.8 235.7 481.3 236.6 480.3 247.2 479.4 260.3 478.9 271.3 476.3 278.6 477.1 285.9 479.4 289.6M490.4 233.8 498.6 235.1 505 232.9 509.6 229.3M505 233.8 505.9 242.1 504.1 249.4 500.5 252.1 500.5 260.3 501.4 273.1 500.5 285.9M509.6 230.2 511.4 236.6 515.1 241.1 512.3 245.7 514.2 251.2 517.8 254.9 515.1 260.3 516.9 265.8 519.7 273.1 520.6 280.5 522.4 282.3M500.5 285.9 511.4 285.6 518.7 284.1 522.4 281.4 526.1 278.6 531.5 279.5 534.3 276.8M479.4 289.6 484 291.4 489.5 287.8 500.5 285.9M479.4 289.6 483.1 295.1 485.8 302.4 490.4 307.9 496.8 309.7 499.5 307.9 500.5 313.4 501.4 317M525.1 281.4 523.3 291.4 520.6 302.4 515.1 307.9 507.8 312.5 501.4 317 500.5 320M427.3 258.5 438.3 254.9 445.6 256.7 451.1 264 452.9 269.5 451.1 278.6 448.3 289.6 443.8 296.9 436.5 299.7 429.1 300.6 425.5 296.9 421.8 291.4 420 289.6M452.9 269.1 463.9 268 473 269.1 478.5 271.3M443.8 298.7 456.6 299.7 465.7 296.9 473 291.4 476.7 288.7 479.4 289.6M456.6 300.6 455.7 309.7 457.5 320M427.3 302.4 428.2 309.7 427.3 320M630 287.7 632.3 291.1 636.9 294 641.4 295.7 647.1 294.6 651.7 295.1 657.4 298 656.3 302.6 659.7 306 664.3 307.1 667.7 311.7 670 315.7M639.5 249 633.1 252.1 629.5 256.7 632.2 263.1 635 269.5 631.3 276.8 633.1 280.5 630.4 285.9 630.4 288.7M661.5 255.8 659.7 265.8 655.1 270.4 649.6 274.1 645.9 278.6 640.5 283.2 633.1 280.5M636.9 283.1 635.7 288.9 640.3 290 646 289.4 651.7 287.7 654 285.4 657.4 287.7 660.9 286.6 664.3 284.3 670 285.4 677.4 286M140.6 328.8 147.5 331.9 153 338.3 158.5 344.7 164 348.3 169.5 350.7 175 349.3 173.1 343.8 171.3 338.3 173.1 332.8 170.4 331.3 162.2 332.4 153 333.2 148.5 331.9M173.1 332.8 178.6 327.3 187.8 325.5 196 321.8 198.7 320M187.8 325.9 196.9 328.8 204.2 331.9 211.5 335.5 217 336.5 224.3 334.6 231.7 333.7 239 333.2 246.3 335.5 251.8 337.4 255.4 332.8 258.2 327.3 260 326.4M168.6 351.1 167.7 358.4 168.6 363.9 164.9 371.2 164 380.3 165.5 389.5 166.7 398.6 166.2 407.8M168.6 365.7 176.8 365.3 187.8 366.6 198.7 367.9 207.9 369.4 209.7 372.1M211.9 336.5 209.7 347.4 208.8 356.6 209.7 365.7 209.7 373 217 375.8 228 378.1 235.3 378.9 241.7 379.4M217.9 376.7 217 385.8 214.3 396.8 210.6 405.9M228.9 334.6 230.7 345.6 233.5 356.6 236.2 365.7 239.9 374.9 242.6 380.3 248.1 385.8 251.4 391.3 250.9 398.6 251.4 405.9M260 396.8 262.7 389.5 263.7 380.3 265.5 371.2 268.2 362.1 270.1 352.9 269.1 345.6 271 340.1M283.8 343.8 282.9 352.9 283.8 362.1 283.8 373 287.4 369.4 293.8 372.1 292.9 378.5 294.7 383.1 289.3 386.7 288.3 390.4M312.1 343.8 314.9 352.9 313.9 362.1 312.1 371.2 310.8 382.2 310.3 393.1 310.3 398.6M354.2 336.5 355.1 343.8 358.7 354.7 360.6 365.7 362.4 374.9 365.1 384 364.2 391.3 362.4 396.8M367.9 336.5 366.1 345.6 368.8 354.7 375.2 358.4 377.9 353.8 386.2 356.6 395.3 358.4 401.7 356.6M400.8 327.3 403.5 336.5 400.8 347.4 401.7 356.6 399.9 365.7 401.7 374.9 402.6 382.2 399.9 389.5 395.3 395M401.7 373.9 409.9 374.5 420 375.8M260 327.3 265.5 332.8 271 339.2 281.9 341 291.1 345.6 298.4 345.6 305.7 341 312.1 341.9 315.8 336.5 318.5 327.3 313.9 320M324 320 323.1 329.1 329.5 332.8 338.6 330.1 347.8 328.2 354.2 331 358.7 333.7 367.9 332.8 373.4 329.1 384.3 327.3 395.3 325.5 400.8 327.3 408.1 328.2 420 325.5M420 374.9 425.5 375.8 431 379.4 434.6 382.2 432.8 389.5 431 395 434.6 398.6M434.6 382.2 438.3 374.9 443.8 369.4 452.9 363.9 460.2 360.2 466.6 355.7 472.1 355.7 474.9 362.1 478.5 369.4 484 371.2 491.3 371.2 488.6 376.7 482.2 381.3 478.1 384 477.6 393.1 478.1 404.1M420 325.5 429.1 328.2 439.2 332.8M438.3 341 440.1 332.8 447.4 328.2 456.6 325.5 463.9 326.4 471.2 330.1 473 338.3 472.1 347.4 471.2 355.7M438.3 341 443.8 347.4 451.1 352.9 460.2 359.3M469.4 320 470.3 325.5 471.2 330.1 474.9 336.5 482.2 338.3 489.5 337.4 496.8 338.3 504.1 339.2 511.4 336.5 515.1 331 513.3 325.5 511.4 320M491.3 371.2 498.6 373.9 504.1 373 505.9 365.7 505 356.6 509.6 352.9 516.9 351.1 524.2 350.2 530.6 349.3M515.1 331 522.4 334.6 526.1 340.1 530.6 348.3 537 343.8 540.7 336.5 542.5 327.3 548 320M530.6 349.3 527.9 356.6 522.4 362.1 518.7 367.5 519.7 374.9 516.9 380.3 520.6 385.8 524.2 391.3 525.1 400.5M516.9 380.3 523.3 375.8 529.7 374.9 534.3 378.5 533.4 384.9 537 389.5 540.7 393.1 541.6 397.7M530.6 349.3 538.9 351.1 544.3 358.4 546.2 363.9 551.7 367.5 560.8 369.4 571.8 373 580 374.9M546.2 360.2 553.5 355.7 562.6 355.7 571.8 352.9 575.4 345.6 580 343.8M553.5 368.5 556.2 376.7 564.5 380.3 566.3 387.7 571.8 392.2 580 394.1M592.2 343.5 591.1 345.7M609.4 315.5 618.5 314.3 627.7 316.5 631.3 320.1 633.1 323.8 638.6 324.7M574.6 343.9 581.9 343 591.1 345.7 594.7 349.4 600.2 347.5 603 352.1 606.6 356.7 613 360.3 618.5 363.1M580.1 375.9 587.4 377.7 594.7 380.5 599.3 384.1M534.6 224.1 535.7 228.7 538.6 233.3 542.6 236.7 547.1 239.6 551.1 241.9 550.6 244.7 548.3 247 548.3 249.9 551.1 252.7 554 256.7 557.4 261.9 559.7 266.4 563.1 271 566.6 274.4 569.4 276.7 569.4 281.3M548.3 250.4 543.7 251 539.1 251.6 537.4 255 536.9 260.7 537.1 266.4 535.7 272.1 533.4 275.6 531.7 279M553.4 222.4 554 226.4 558.6 229.3 564.3 231 568.9 232.1 572.9 235.6 575.1 240.1 576.9 242.4 574 244.7 573.4 248.1 576.9 249.9 577.4 253.9 577.4 260.7 579.7 265.3 581.4 269.9 582 274.4 579.7 279 579.1 283.6 580.3 288.1 580.9 290M576.9 242.4 581.4 239.6 587.1 239 592.9 240.1 593.4 244.7 592.3 249.3 592.9 252.1 597.4 248.1 598.6 244.7 603.1 241.3 606 237.3 608.9 234.4M592.9 252.1 592.3 258.4 594 264.1 595.7 269.9 594 274.4 595.7 280.1 598.6 284.7 603.1 288.1 605.4 290M535.7 270 535.1 274.6 532.3 278 530 279.7M532.3 278 536.9 277.4 544.9 276.9 552.9 275.7 558 276.3 562 279.1 565.4 281.4 568.9 281.4 569.4 276.9 566.6 274 563.1 271.7 561.4 270M568.9 281.4 571.1 286 574.6 290 578 291.1M538 277.4 539.1 281.4 542.6 284.9 546 288.3 546 292.9 544.9 297.4 543.7 300.9 544.9 305.4 547.1 308.9 550 310.6 548.3 315.7 547.7 320.3 544.9 322.6M550 310.6 554 307.1 558.6 305.4 564.3 305.4 567.7 304.3 569.4 303.1 567.7 300.9 567.1 298 569.4 295.7 572.3 292.9 574.6 291.1 578 291.1M565.4 305.4 566 310 568.9 314 572.3 316.9 574 321.4 572.9 327.1 574 332.9 575.1 337.4 575.1 343.1 575.7 345M578 291.1 580.3 287.1 579.1 282.6 580.9 278.6 582 274.6 580.9 270M578 291.1 583.7 292.3 588.3 294.6 592.3 296.9 596.3 297.4 599.7 296.9 602.6 294.6 604.9 291.1 606 290M595.7 270 594 274.6 595.1 279.1 598 283.7 602 287.1 606 290 610 289.4 612.3 286 616.9 283.1 621.4 282 624.9 283.1 630 286M606 290 610 291.1 611.7 294.6 610 299.7 608.3 304.3 607.7 310 608.9 315.7 608.9 319.1 606.6 323.7 603.1 324.9 599.7 326 598 330.6 596.3 336.3 594 340.9 591.7 345M599.7 298 597.4 303.1 594 308.9 589.4 314 584.9 316.9 582 321.4 579.1 327.1 576.3 332.3 574.6 337.4M196.5 318.4 207.4 313.8 216.6 314.4 227.5 317.5 239.4 320.2 250.4 321.1 251.3 325.7 260.5 327.2M365.2 318.8 364.7 327.5M370.4 319.3 369.3 329.4M427.4 318.8 425.9 316.6 421.4 321.7 419 325.7M457 318.8 459.8 321.7 466.2 321.1 468.9 319.3M509.1 313.8 511 319.3M260 396.8 258.4 402.2 254.7 404.3 251.6 405.4M269.8 395.6 271.9 392.8 276 392.1 278.1 394.2 276 396.9 271.9 398.3 269.8 395.6M489.9 307.4 484.5 312.9 477.1 316.6 474.4 322.1 468.9 323.9" fill="none" stroke="#000" stroke-width="1.6" stroke-linejoin="round" stroke-linecap="round"/>
</g>
<!-- MAP-END -->
<!-- axes -->
<g stroke="#262626" stroke-width="1" fill="none" shape-rendering="crispEdges">
<rect x="99.5" y="171.5" width="593" height="290"/>
<path d="M134.5 461.5v-6M203.5 461.5v-6M272.5 461.5v-6M341.5 461.5v-6M411.5 461.5v-6M480.5 461.5v-6M549.5 461.5v-6M618.5 461.5v-6M687.5 461.5v-6"/>
<path d="M134.5 171.5v6M203.5 171.5v6M272.5 171.5v6M341.5 171.5v6M411.5 171.5v6M480.5 171.5v6M549.5 171.5v6M618.5 171.5v6M687.5 171.5v6"/>
<path d="M99.5 243.5h6.5M99.5 316.5h6.5M99.5 389.5h6.5M692.5 243.5h-6.5M692.5 316.5h-6.5M692.5 389.5h-6.5"/>
</g>
<g class="tk txt" text-anchor="end">
<text x="91.3" y="179" textLength="39.3" lengthAdjust="spacingAndGlyphs">18.6</text>
<text x="91.3" y="251" textLength="39.3" lengthAdjust="spacingAndGlyphs">18.4</text>
<text x="91.3" y="324" textLength="39.3" lengthAdjust="spacingAndGlyphs">18.2</text>
<text x="91.3" y="397" textLength="22.4" lengthAdjust="spacingAndGlyphs">18</text>
<text x="91.3" y="469" textLength="39.3" lengthAdjust="spacingAndGlyphs">17.8</text>
</g>
<g class="tk txt" text-anchor="middle">
<text x="134.9" y="491">-67.2</text>
<text x="204.0" y="491">-67</text>
<text x="273.1" y="491">-66.8</text>
<text x="342.3" y="491">-66.6</text>
<text x="411.4" y="491">-66.4</text>
<text x="480.5" y="491">-66.2</text>
<text x="549.6" y="491">-66</text>
<text x="618.8" y="491">-65.8</text>
<text x="687.9" y="491">-65.6</text>
</g>
<text class="lb txt" text-anchor="middle" x="396" y="521">Longitude</text>
<text class="lb txt" text-anchor="middle" transform="translate(38,316) rotate(-90)">Latitude</text>
<text class="tt txt" text-anchor="middle" x="397" y="162">MINIMUM AIR TEMPERATURE (C) 05-Oct-2025</text>
<!-- colorbar -->
<rect x="728.5" y="170.5" width="32" height="291" fill="url(#jet)" stroke="#262626" stroke-width="1" shape-rendering="crispEdges"/>
<path d="M760 182.5h-2.5M760 239.5h-2.5M760 296.5h-2.5M760 353.5h-2.5M760 410.5h-2.5" stroke="#262626" stroke-width="1" shape-rendering="crispEdges"/>
<g class="tk txt">
<text x="768.8" y="190" textLength="21.3" lengthAdjust="spacingAndGlyphs">28</text>
<text x="768.8" y="247" textLength="21.3" lengthAdjust="spacingAndGlyphs">26</text>
<text x="768.8" y="304" textLength="21.3" lengthAdjust="spacingAndGlyphs">24</text>
<text x="768.8" y="361" textLength="21.3" lengthAdjust="spacingAndGlyphs">22</text>
<text x="768.8" y="418" textLength="21.3" lengthAdjust="spacingAndGlyphs">20</text>
</g>
</svg>
</body>
</html>
